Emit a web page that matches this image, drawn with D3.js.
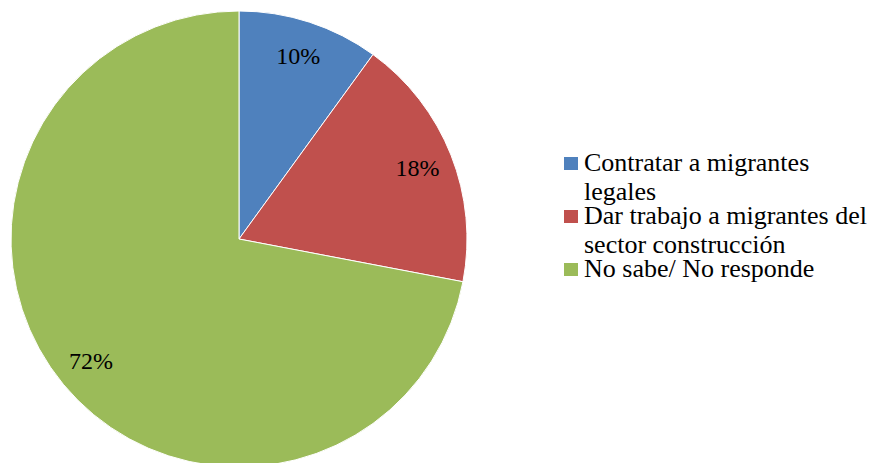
<!DOCTYPE html>
<html lang="es">
<head>
<meta charset="UTF-8">
<title>Pie</title>
<script src="https://cdn.jsdelivr.net/npm/d3@7"></script>
<style>
  body { margin: 0; background: white; }
</style>
</head>
<body>
<svg id="chart" width="877" height="463"></svg>
<script>
// data
var categories = ["Contratar a migrantes legales", "Dar trabajo a migrantes del sector construcción", "No sabe/ No responde"];
var values = [10, 18, 72];
var legendLines = [["Contratar a migrantes", "legales"], ["Dar trabajo a migrantes del", "sector construcción"], ["No sabe/ No responde"]];
var colors = ["#4F81BD", "#C0504D", "#9BBB59"];

var fontStack = '"Liberation Serif", "Times New Roman", serif';
var svg = d3.select("#chart");
var cx = 239, cy = 239, R = 228;

var pie = d3.pie().sort(null).value(function(d){ return d; });
var arc = d3.arc().innerRadius(0).outerRadius(R);
var labelArc = d3.arc().innerRadius(192).outerRadius(192);

var g = svg.append("g").attr("transform", "translate(" + cx + "," + cy + ")");
var arcs = pie(values);

g.selectAll("path").data(arcs).enter().append("path")
  .attr("d", arc)
  .attr("fill", function(d, i){ return colors[i]; })
  .attr("stroke", "#fff").attr("stroke-width", 1);

g.selectAll("text.lbl").data(arcs).enter().append("text")
  .attr("class", "lbl")
  .attr("transform", function(d){ var c = labelArc.centroid(d); return "translate(" + c[0] + "," + (c[1] + 8) + ")"; })
  .attr("text-anchor", "middle")
  .style("font-family", fontStack)
  .style("font-size", "24px")
  .text(function(d){ return d.data + "%"; });

// legend
var lineH = 29, gap = 24;
var y = 171;
var legend = svg.append("g");
legendLines.forEach(function(lines, i){
  legend.append("rect")
    .attr("x", 564).attr("y", y - 14)
    .attr("width", 14).attr("height", 13)
    .attr("fill", colors[i]);
  lines.forEach(function(t, j){
    legend.append("text")
      .attr("x", 584).attr("y", y + j * lineH)
      .style("font-family", fontStack)
      .style("font-size", "26px")
      .text(t);
  });
  y += (lines.length - 1) * lineH + gap;
});
</script>
</body>
</html>
